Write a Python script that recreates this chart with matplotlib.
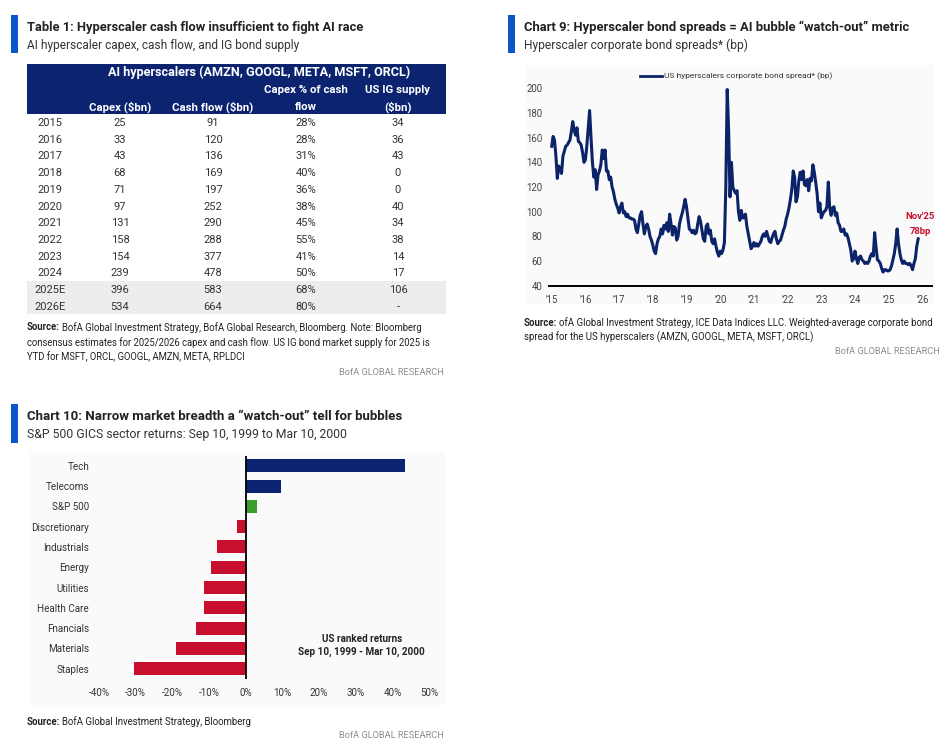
import matplotlib
matplotlib.use("Agg")
import matplotlib.pyplot as plt
from matplotlib.lines import Line2D
from matplotlib.patches import Rectangle

# ---------------- data ----------------
table_years = ['2015', '2016', '2017', '2018', '2019', '2020', '2021', '2022',
               '2023', '2024', '2025E', '2026E']
capex = [25, 33, 43, 68, 71, 97, 131, 158, 154, 239, 396, 534]
cash_flow = [91, 120, 136, 169, 197, 252, 290, 288, 377, 478, 583, 664]
capex_pct = [28, 28, 31, 40, 36, 38, 45, 55, 41, 50, 68, 80]
ig_supply = [34, 36, 43, 0, 0, 40, 34, 38, 14, 17, 106, None]

spread_start = 2015.0          # semi-monthly observations
spread_step = 1.0 / 24.0
spread = [
    # 2015
    153, 161, 158, 145, 127, 137, 135, 131, 145, 149, 153, 154,
    156, 158, 165, 173, 166, 162, 168, 157, 156, 154, 148, 140,
    # 2016
    142, 153, 168, 182, 160, 140, 128, 134, 118, 130, 133, 138,
    150, 143, 150, 133, 133, 126, 128, 120, 116, 110, 106, 103,
    # 2017
    99, 104, 107, 99, 100, 96, 98, 95, 95, 94, 94, 93,
    86, 83, 90, 97, 100, 90, 82, 88, 90, 86, 80, 77,
    # 2018
    73, 68, 66, 74, 78, 80, 86, 82, 89, 86, 91, 84,
    98, 90, 81, 88, 87, 77, 80, 90, 95, 99, 104, 110,
    # 2019
    104, 95, 86, 85, 83, 85, 82, 83, 90, 96, 92, 85,
    78, 76, 88, 90, 82, 85, 76, 74, 78, 72, 67, 64,
    # 2020
    68, 66, 69, 75, 120, 199, 166, 112, 140, 120, 117, 115,
    117, 100, 93, 101, 95, 95, 98, 88, 82, 76, 70, 72,
    # 2021
    75, 72, 74, 72, 74, 76, 80, 82, 80, 84, 80, 76,
    75, 79, 82, 84, 78, 74, 76, 77, 81, 85, 88, 94,
    # 2022
    98, 103, 110, 118, 133, 128, 108, 112, 125, 132, 126, 133,
    122, 121, 126, 117, 127, 125, 138, 132, 124, 115, 100, 107,
    # 2023
    95, 98, 100, 101, 104, 124, 103, 97, 103, 104, 97, 99,
    91, 89, 84, 84, 86, 81, 82, 79, 74, 69, 60, 62,
    # 2024
    68, 62, 58, 63, 64, 61, 60, 58, 59, 58, 60, 64,
    66, 64, 83, 71, 61, 60, 58, 54, 51, 53, 53, 52,
    # 2025
    52, 53, 56, 61, 66, 74, 86, 74, 66, 61, 58, 60,
    58, 58, 57, 58, 56, 53, 58, 62, 72, 78,
]
spread_ticks = list(range(2015, 2027))
spread_tick_labels = ["'%02d" % (y % 100) for y in spread_ticks]

sectors = ['Tech', 'Telecoms', 'S&P 500', 'Discretionary', 'Industrials', 'Energy',
           'Utilities', 'Health Care', 'Fnancials', 'Materials', 'Staples']
sector_returns = [43.3, 9.6, 3.0, -2.5, -7.9, -9.5, -11.5, -11.3, -13.6, -19.1, -30.6]
return_ticks = [-40, -30, -20, -10, 0, 10, 20, 30, 40, 50]

# ---------------- style ----------------
W, H = 953, 756
FONT = ['Roboto', 'DejaVu Sans']
NAVY = '#0b2368'
NAVY_BAR = '#0c2470'
RED = '#c8102e'
GREEN = '#3a9d2c'
BLUE = '#0b57c9'
TXT = '#222222'
GRAYTXT = '#8c8c8c'

plt.rcParams['font.family'] = FONT
fig = plt.figure(figsize=(W / 100, H / 100), dpi=100)
fig.patch.set_facecolor('white')
renderer = fig.canvas.get_renderer()


def fx(x):
    return x / W


def fy(y):
    return 1 - y / H


def put(x, y, s, size, ha='left', va='center', weight='normal', color=TXT, **kw):
    return fig.text(fx(x), fy(y), s, fontsize=size, ha=ha, va=va,
                    fontweight=weight, color=color, family=FONT, **kw)


def fit_size(s, width, weight='normal'):
    t = put(0, 0, s, 10, weight=weight)
    w = t.get_window_extent(renderer).width
    t.remove()
    return 10 * width / w


def fit(x, y, s, width, **kw):
    size = fit_size(s, width, kw.get('weight', 'normal'))
    return put(x, y, s, size, **kw)


def source(x, y, rest, size):
    t = put(x, y, 'Source:', size, weight='bold')
    wb = t.get_window_extent(renderer).width
    put(x + wb + 2, y, rest, size)


def block_bar(x0, y0, y1):
    fig.add_artist(Rectangle((fx(x0), fy(y1)), fx(7.5), (y1 - y0) / H,
                             color=BLUE, transform=fig.transFigure, lw=0))


def bg(x0, y0, x1, y1, color='#fafafa'):
    fig.add_artist(Rectangle((fx(x0), fy(y1)), fx(x1 - x0), (y1 - y0) / H,
                             color=color, transform=fig.transFigure, lw=0, zorder=-5))


# ================= Table 1 =================
block_bar(11, 15, 53)
fit(27, 27, 'Table 1: Hyperscaler cash flow insufficient to fight AI race', 338, weight='bold')
fit(27, 45.5, 'AI hyperscaler capex, cash flow, and IG bond supply', 274, color='#333333')

fig.add_artist(Rectangle((fx(27), fy(114)), fx(446 - 27), 50 / H, color=NAVY_BAR,
                         transform=fig.transFigure, lw=0))
fit(259.5, 72.5, 'AI hyperscalers (AMZN, GOOGL, META, MSFT, ORCL)', 302,
    weight='bold', color='white', ha='center')
hsize = fit_size('Cash flow ($bn)', 80.7, 'bold')
col_x = [50, 120, 213, 306, 398]
put(col_x[1], 107, 'Capex ($bn)', hsize, weight='bold', color='white', ha='center')
put(col_x[2], 107, 'Cash flow ($bn)', hsize, weight='bold', color='white', ha='center')
put(col_x[3], 90, 'Capex % of cash', hsize, weight='bold', color='white', ha='center')
put(col_x[3], 107, 'flow', hsize, weight='bold', color='white', ha='center')
put(col_x[4], 90, 'US IG supply', hsize, weight='bold', color='white', ha='center')
put(col_x[4], 107, '($bn)', hsize, weight='bold', color='white', ha='center')

fig.add_artist(Rectangle((fx(27), fy(313.5)), fx(446 - 27), 33 / H, color='#ededed',
                         transform=fig.transFigure, lw=0))
nsize = fit_size('2025E', 31)
row_h = 16.7
for i, yr in enumerate(table_years):
    yy = 123 + i * row_h
    sup = '-' if ig_supply[i] is None else str(ig_supply[i])
    vals = [yr, str(capex[i]), str(cash_flow[i]), '%d%%' % capex_pct[i], sup]
    for cx, v in zip(col_x, vals):
        put(cx, yy, v, nsize, ha='center', color='#333333')

ssize = fit_size('Source: BofA Global Investment Strategy, BofA Global Research, Bloomberg. Note: Bloomberg', 395)
source(27, 327.3, 'BofA Global Investment Strategy, BofA Global Research, Bloomberg. Note: Bloomberg', ssize)
put(27, 342.3, 'consensus estimates for 2025/2026 capex and cash flow. US IG bond market supply for 2025 is', ssize)
put(27, 356.8, 'YTD for MSFT, ORCL, GOOGL, AMZN, META, RPLDCI', ssize)
gsize = fit_size('BofA GLOBAL RESEARCH', 105)
put(444, 372.3, 'BofA GLOBAL RESEARCH', gsize, ha='right', color=GRAYTXT)

# ================= Chart 9 =================
block_bar(508, 15, 53)
fit(524, 27, 'Chart 9: Hyperscaler bond spreads = AI bubble \u201cwatch-out\u201d metric', 387, weight='bold')
fit(524, 45.5, 'Hyperscaler corporate bond spreads* (bp)', 224, color='#333333')
bg(525, 65, 935, 304)

ax1 = fig.add_axes([fx(549), fy(285.7), fx(932 - 549), (285.7 - 88.3) / H])
ax1.set_facecolor('none')
xs = [spread_start + i * spread_step for i in range(len(spread))]
ax1.plot(xs, spread, color=NAVY, lw=2.2, solid_joinstyle='round', clip_on=False)
ax1.set_xlim(2014.92, 2026.285)
ax1.set_ylim(40, 200)
ax1.set_yticks(range(40, 201, 20))
ax1.set_xticks(spread_ticks)
ax1.set_xticklabels(spread_tick_labels)
for s in ['top', 'right', 'left']:
    ax1.spines[s].set_visible(False)
ax1.spines['bottom'].set_linewidth(1.4)
ax1.spines['bottom'].set_color('black')
ax1.tick_params(axis='both', length=0, labelsize=6.9, labelcolor='#444444')
ax1.tick_params(axis='y', pad=4.8)
ax1.tick_params(axis='x', pad=6.5)
for lab in ax1.get_xticklabels() + ax1.get_yticklabels():
    lab.set_family(FONT)

fig.add_artist(Line2D([fx(640), fx(662.5)], [fy(76), fy(76)], color=NAVY, lw=2,
                      transform=fig.transFigure))
fit(664, 76, 'US hyperscalers corporate bond spread* (bp)', 167, color='#333333')
nov_size = fit_size("Nov'25", 29, 'bold')
put(920, 216.7, "Nov'25", nov_size, ha='center', weight='bold', color=RED)
put(920, 231, '78bp', nov_size, ha='center', weight='bold', color=RED)

s9 = fit_size('Source: ofA Global Investment Strategy, ICE Data Indices LLC. Weighted-average corporate bond', 407.7)
source(524, 322.7, 'ofA Global Investment Strategy, ICE Data Indices LLC. Weighted-average corporate bond', s9)
put(524, 337.3, 'spread for the US hyperscalers (AMZN, GOOGL, META, MSFT, ORCL)', s9)
put(939.3, 352, 'BofA GLOBAL RESEARCH', gsize, ha='right', color=GRAYTXT)

# ================= Chart 10 =================
block_bar(11, 404, 443)
fit(27, 416, 'Chart 10: Narrow market breadth a \u201cwatch-out\u201d tell for bubbles', 375, weight='bold')
fit(27, 434.5, 'S&P 500 GICS sector returns: Sep 10, 1999 to Mar 10, 2000', 321, color='#333333')
bg(30, 452, 445, 705)

ax2 = fig.add_axes([fx(95.4), fy(678.9), fx(440.1 - 95.4), (678.9 - 455.6) / H])
ax2.set_facecolor('none')
colors = [NAVY_BAR if v > 5 else (GREEN if v > 0 else RED) for v in sector_returns]
colors[2] = GREEN
ax2.barh(range(len(sectors)), sector_returns, height=0.64, color=colors, lw=0)
ax2.axvline(0, color='black', lw=1.3)
ax2.set_xlim(-41, 53)
ax2.set_ylim(10.5, -0.5)
ax2.set_yticks(range(len(sectors)))
ax2.set_yticklabels(sectors)
ax2.set_xticks(return_ticks)
ax2.set_xticklabels(['%d%%' % t for t in return_ticks])
for s in ax2.spines.values():
    s.set_visible(False)
ax2.tick_params(axis='both', length=0, labelsize=7.1, labelcolor='#333333')
ax2.tick_params(axis='y', pad=4.6)
ax2.tick_params(axis='x', pad=6.3)
for lab in ax2.get_xticklabels() + ax2.get_yticklabels():
    lab.set_family(FONT)

asize = fit_size('Sep 10, 1999 - Mar 10, 2000', 126, 'bold')
put(361.7, 639, 'US ranked returns', asize, ha='center', weight='bold')
put(361.7, 651.7, 'Sep 10, 1999 - Mar 10, 2000', asize, ha='center', weight='bold')

s10 = fit_size('Source: BofA Global Investment Strategy, Bloomberg', 224.7)
source(27, 721.7, 'BofA Global Investment Strategy, Bloomberg', s10)
put(444, 736, 'BofA GLOBAL RESEARCH', gsize, ha='right', color=GRAYTXT)

fig.savefig('out.png', dpi=100, facecolor='white')
